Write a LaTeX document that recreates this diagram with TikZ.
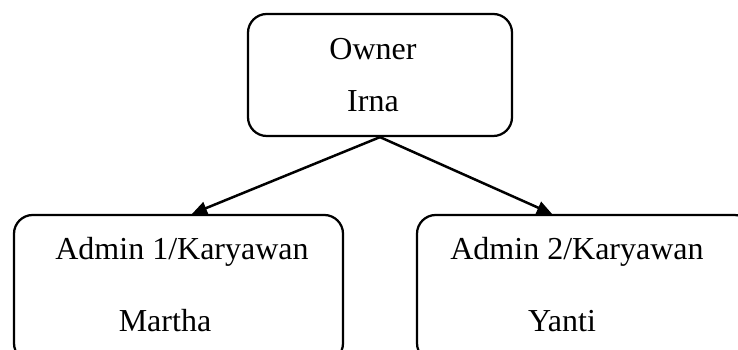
\documentclass[tikz,border=0pt]{standalone}
\usepackage{fontspec}
\setmainfont{Liberation Serif}
\usetikzlibrary{positioning,calc,arrows.meta}

\begin{document}
\begin{tikzpicture}[x=0.4pt,y=-0.4pt,
    box/.style = {draw, rounded corners=7.5pt, line width=0.9pt, inner sep=0pt},
    txt/.style = {anchor=base, inner sep=0pt, font=\fontsize{12.8}{15}\selectfont},
    arr/.style = {line width=1pt, -{Triangle[length=6pt,width=5.2pt]}}]
      \useasboundingbox (0,0) rectangle (738,350);
      \clip (0,0) rectangle (738,350);
      \node[box, minimum width=105.6pt, minimum height=48.8pt](owner) at (380,75){};
      \node[box, minimum width=131.6pt, minimum height=58.8pt](admin1) at (178.5,288.5){};
      \node[box, minimum width=134.4pt, minimum height=58.8pt](admin2) at (585,288.5){};
      \node[txt](o1) at (373,60){Owner};
      \node[txt](o2) at (373,112){Irna};
      \node[txt](a1) at (182,260){Admin 1/Karyawan};
      \node[txt](m1) at (165,332){Martha};
      \node[txt](a2) at (577,260){Admin 2/Karyawan};
      \node[txt](y2) at (562,332){Yanti};
      \draw[arr] (owner.south) -- ($(admin1.north)+(13.5,0)$);
      \draw[arr] (owner.south) -- ($(admin2.north)+(-33,0)$);
    \end{tikzpicture}
\end{document}
